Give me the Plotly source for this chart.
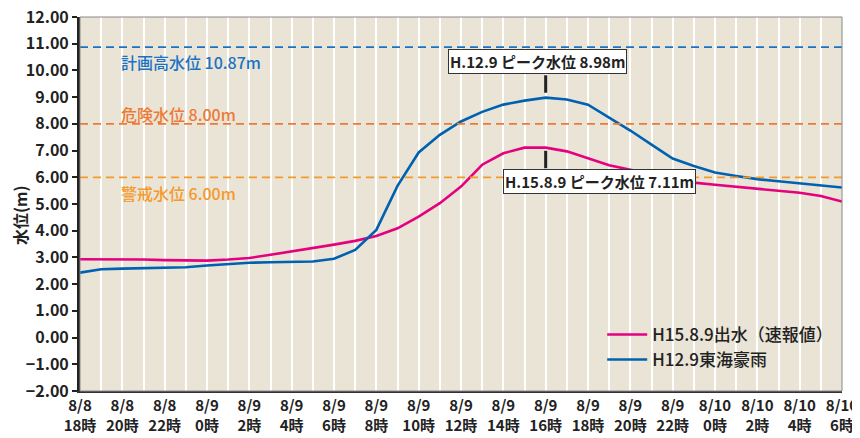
import plotly.graph_objects as go

# ---------------- data ----------------
hours = list(range(0, 37))  # hours after 8/8 18時
tick_hours = list(range(0, 37, 2))
tick_text = ["8/8<br>18時", "8/8<br>20時", "8/8<br>22時", "8/9<br>0時", "8/9<br>2時",
             "8/9<br>4時", "8/9<br>6時", "8/9<br>8時", "8/9<br>10時", "8/9<br>12時",
             "8/9<br>14時", "8/9<br>16時", "8/9<br>18時", "8/9<br>20時", "8/9<br>22時",
             "8/10<br>0時", "8/10<br>2時", "8/10<br>4時", "8/10<br>6時"]

h15_name = "H15.8.9出水（速報値）"
h15_level = [2.93, 2.93, 2.93, 2.92, 2.90, 2.88, 2.88, 2.92, 2.98, 3.10,
             3.22, 3.35, 3.48, 3.62, 3.80, 4.09, 4.53, 5.03, 5.65, 6.47,
             6.90, 7.11, 7.11, 6.97, 6.70, 6.45, 6.28, 6.12, 5.94, 5.80,
             5.72, 5.65, 5.57, 5.50, 5.42, 5.30, 5.09]

h12_name = "H12.9東海豪雨"
h12_level = [2.43, 2.56, 2.58, 2.60, 2.61, 2.63, 2.70, 2.76, 2.80, 2.82,
             2.83, 2.85, 2.95, 3.28, 4.03, 5.68, 6.93, 7.59, 8.09, 8.45,
             8.72, 8.87, 8.98, 8.91, 8.72, 8.25, 7.75, 7.22, 6.70, 6.42,
             6.18, 6.05, 5.93, 5.85, 5.78, 5.71, 5.62]

ref_levels = [10.87, 8.00, 6.00]
ref_labels = ["計画高水位 10.87m", "危険水位 8.00m", "警戒水位 6.00m"]
ref_colors = ["#1a72c4", "#ec7a35", "#f5992a"]
ref_label_y = [10.33, 8.38, 5.42]

peak_hour = 22
peak_h12 = 8.98
peak_h15 = 7.11

# ---------------- figure ----------------
FONT = "Noto Sans CJK JP"
fig = go.Figure()

fig.add_trace(go.Scatter(x=hours, y=h15_level, mode="lines", name=h15_name,
                         line=dict(color="#e5007f", width=2.6)))
fig.add_trace(go.Scatter(x=hours, y=h12_level, mode="lines", name=h12_name,
                         line=dict(color="#0061b0", width=2.6)))

for lv, lab, col, ly in zip(ref_levels, ref_labels, ref_colors, ref_label_y):
    fig.add_shape(type="line", xref="paper", x0=0, x1=1, yref="y", y0=lv, y1=lv,
                  line=dict(color=col, width=1.8, dash="8px,5px"), layer="above")
    fig.add_annotation(x=1.84, y=ly, xref="x", yref="y", text=lab, showarrow=False,
                       xanchor="left", yanchor="middle",
                       font=dict(family=FONT, size=16, color=col, weight=500))

# peak callouts
fig.add_annotation(x=peak_hour, y=peak_h12, xref="x", yref="y", text="",
                   showarrow=True, arrowhead=0, arrowwidth=3, arrowcolor="#222",
                   ax=0, ay=-24, standoff=5)
fig.add_annotation(x=21.6, y=10.33, xref="x", yref="y",
                   text="H.12.9 ピーク水位 8.98m", showarrow=False,
                   font=dict(family=FONT, size=15, color="#222", weight=600),
                   bgcolor="white", bordercolor="#333", borderwidth=1, borderpad=1)
fig.add_annotation(x=peak_hour, y=peak_h15, xref="x", yref="y", text="",
                   showarrow=True, arrowhead=0, arrowwidth=3, arrowcolor="#222",
                   ax=0, ay=22, standoff=3)
fig.add_annotation(x=24.56, y=5.85, xref="x", yref="y",
                   text="H.15.8.9 ピーク水位 7.11m", showarrow=False,
                   font=dict(family=FONT, size=15, color="#222", weight=600),
                   bgcolor="white", bordercolor="#333", borderwidth=1, borderpad=1)

# y-axis title as rotated annotation
fig.add_annotation(x=-0.079, y=0.47, xref="paper", yref="paper", text="水位(m)",
                   textangle=-90, showarrow=False, xanchor="center", yanchor="middle",
                   font=dict(family=FONT, size=16, weight=700, color="#222"))

# page body has an 8px margin, so the figure is sized/offset to compensate
fig.update_layout(
    width=852, height=430,
    margin=dict(l=72, r=18, t=9, b=47, autoexpand=False),
    paper_bgcolor="white",
    plot_bgcolor="#e9e4d6",
    font=dict(family=FONT, color="#222"),
    showlegend=True,
    legend=dict(x=0.995, y=0.035, xanchor="right", yanchor="bottom",
                bgcolor="rgba(0,0,0,0)", font=dict(family=FONT, size=17, weight=500),
                tracegroupgap=0, itemwidth=40),
    xaxis=dict(range=[0, 36], tickmode="array", tickvals=tick_hours, ticktext=tick_text,
               automargin=False, ticklabeloverflow="allow",
               showgrid=True, gridcolor="white", gridwidth=1.5,
               minor=dict(dtick=1, showgrid=True, gridcolor="white", gridwidth=1.5),
               showline=True, linecolor="#333", linewidth=2, mirror=False,
               ticks="", tickfont=dict(family=FONT, size=15, weight=700, color="#222"),
               zeroline=False),
    yaxis=dict(range=[-2, 12], dtick=1, tickformat=".2f", automargin=False,
               ticklabeloverflow="allow",
               showgrid=False, zeroline=False,
               showline=True, linecolor="#222", linewidth=3,
               ticks="outside", ticklen=5, tickcolor="#222", tickwidth=2,
               tickfont=dict(family=FONT, size=16, weight=700, color="#222")),
)
# thin border on top/right
fig.add_shape(type="rect", xref="paper", yref="paper", x0=0, x1=1, y0=0, y1=1,
              line=dict(color="#888", width=1), layer="above")

fig.write_html("out.html")
